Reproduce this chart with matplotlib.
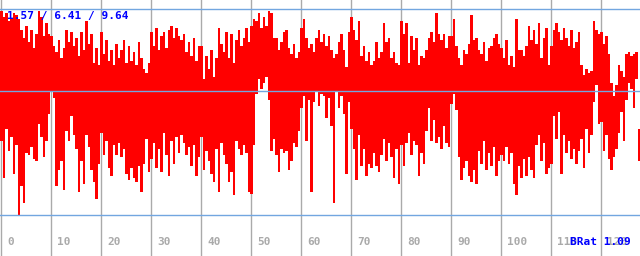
import numpy as np
import matplotlib
matplotlib.use('Agg')
import matplotlib.pyplot as plt
import matplotlib.transforms as mtransforms

# range of each half-unit column: low / high value
hi = [9.9, 9.6, 9.8, 9.4, 9.5, 9.8, 9.7, 9.5, 9.0, 8.6,
      9.2, 8.4, 9.0, 8.1, 8.8, 9.9, 9.6, 8.7, 9.3, 8.8,
      8.7, 8.2, 7.9, 8.5, 7.6, 8.1, 9.0, 8.4, 8.9, 8.2,
      8.6, 7.7, 8.9, 8.0, 9.4, 8.3, 8.8, 7.4, 8.1, 7.3,
      8.9, 7.8, 8.5, 7.5, 8.0, 7.3, 8.3, 7.6, 8.0, 8.5,
      7.4, 8.2, 7.5, 7.9, 7.3, 8.4, 7.6, 7.1, 6.9, 7.4,
      8.9, 8.2, 9.1, 8.0, 8.7, 8.9, 8.1, 9.0, 9.2, 8.6,
      9.1, 8.7, 8.5, 8.8, 7.9, 8.4, 7.7, 8.6, 7.5, 8.2,
      8.2, 6.6, 7.7, 7.1, 8.0, 6.7, 7.6, 9.1, 8.3, 7.9,
      8.9, 7.6, 8.8, 7.4, 8.5, 9.0, 8.2, 8.6, 9.1, 8.4,
      9.2, 9.5, 9.4, 9.8, 9.1, 9.6, 9.2, 9.9, 9.8, 8.6,
      8.6, 8.0, 8.4, 8.9, 9.0, 8.1, 7.8, 8.3, 7.6, 7.9,
      9.1, 9.5, 8.6, 8.1, 8.3, 7.9, 8.6, 9.0, 8.4, 8.8,
      8.2, 8.7, 8.0, 7.6, 7.8, 8.4, 8.8, 8.0, 7.2, 8.9,
      9.6, 9.0, 8.5, 9.4, 7.7, 8.2, 7.5, 7.9, 7.3, 7.5,
      8.4, 7.6, 7.9, 9.3, 8.4, 8.6, 7.6, 7.9, 7.4, 7.3,
      9.4, 8.8, 9.3, 7.4, 8.7, 8.0, 8.6, 7.3, 7.7, 7.6,
      8.0, 8.6, 8.9, 8.4, 9.8, 8.8, 8.5, 8.8, 8.1, 8.7,
      8.7, 9.5, 8.2, 7.6, 7.3, 8.0, 7.8, 8.3, 9.7, 8.5,
      8.6, 8.0, 7.8, 8.4, 7.5, 8.1, 8.2, 8.6, 8.8, 8.3,
      8.1, 7.6, 8.5, 7.3, 7.7, 7.2, 9.5, 8.0, 8.0, 7.7,
      8.2, 9.2, 8.5, 9.0, 8.3, 9.3, 7.6, 8.6, 9.1, 7.3,
      8.2, 9.0, 9.3, 8.9, 8.5, 9.1, 8.6, 8.2, 9.0, 8.1,
      8.4, 8.9, 7.3, 6.8, 7.1, 6.9, 7.0, 9.4, 9.0, 8.8,
      8.9, 8.3, 8.7, 7.8, 6.4, 5.8, 6.3, 7.3, 7.0, 6.7,
      7.8, 7.9, 7.7, 7.8, 7.9, 4.2]
lo = [3.6, 1.8, 4.2, 3.1, 3.8, 2.0, 3.4, 0.0, 1.4, 0.6,
      3.0, 2.9, 3.3, 2.7, 2.6, 4.4, 3.8, 2.8, 3.6, 4.9,
      6.0, 5.7, 1.4, 2.2, 2.6, 1.2, 4.1, 3.6, 4.8, 3.9,
      3.2, 1.1, 2.6, 1.5, 3.9, 3.3, 2.2, 1.6, 0.8, 2.5,
      4.0, 2.9, 3.6, 2.3, 1.9, 3.4, 2.9, 3.5, 2.8, 3.2,
      2.0, 1.7, 2.3, 1.8, 1.6, 2.4, 1.1, 2.5, 3.7, 2.1,
      2.7, 3.5, 2.3, 3.2, 2.1, 4.0, 2.9, 1.9, 3.6, 2.5,
      3.8, 3.0, 3.9, 3.5, 2.9, 3.3, 2.4, 3.4, 1.9, 2.8,
      3.8, 2.2, 3.1, 2.6, 2.0, 1.6, 3.2, 1.1, 3.5, 2.9,
      2.5, 1.6, 2.1, 0.97, 3.6, 3.2, 2.9, 3.4, 3.0, 1.1,
      1.0, 3.4, 5.9, 6.6, 6.1, 6.4, 6.7, 5.6, 3.1, 3.7,
      2.9, 2.1, 3.2, 3.0, 3.1, 2.2, 2.6, 3.5, 3.3, 4.1,
      5.2, 5.8, 3.6, 5.6, 1.1, 5.5, 6.0, 5.3, 5.9, 5.8,
      4.7, 5.7, 4.3, 0.6, 6.0, 5.2, 5.8, 4.9, 2.0, 5.5,
      4.2, 3.2, 1.7, 3.9, 2.4, 3.2, 1.9, 2.5, 2.3, 3.0,
      2.4, 2.1, 2.9, 3.7, 2.6, 3.5, 2.8, 1.8, 3.2, 1.5,
      3.4, 2.4, 3.5, 4.0, 2.9, 3.6, 3.4, 1.9, 3.0, 2.5,
      4.1, 5.2, 3.6, 4.6, 3.5, 3.8, 3.2, 4.3, 3.5, 3.3,
      5.4, 5.9, 5.1, 2.8, 1.7, 2.3, 2.6, 1.9, 1.6, 2.2,
      1.5, 3.1, 2.5, 3.6, 2.2, 3.0, 2.4, 3.3, 1.9, 2.6,
      2.9, 2.6, 3.3, 2.5, 3.0, 1.5, 0.97, 2.4, 1.8, 2.7,
      1.9, 2.8, 2.2, 1.8, 3.4, 3.9, 2.6, 3.5, 2.0, 2.3,
      2.5, 4.8, 3.7, 5.0, 2.0, 3.9, 3.0, 3.6, 2.7, 3.2,
      2.5, 3.1, 3.7, 2.3, 4.2, 3.0, 3.9, 5.5, 6.3, 4.4,
      4.5, 3.1, 3.9, 2.7, 2.2, 2.8, 3.2, 4.0, 5.0, 3.6,
      5.6, 6.4, 6.1, 5.2, 6.6, 2.6]

xticks = [0, 10, 20, 30, 40, 50, 60, 70, 80, 90, 100, 110, 120]
hlines = [0, 6, 10]
stats_label = '1.57 / 6.41 / 9.64'
brat_label = 'BRat 1.09'

hi = np.array(hi)
lo = np.array(lo)
x = np.arange(len(hi)) * 0.5

fig = plt.figure(figsize=(6.4, 2.56), dpi=100)
ax = fig.add_axes([0, 0, 1, 1])
ax.set_xlim(0, 128)
ax.set_ylim(-1.99, 10.44)
ax.axis('off')

for t in xticks:
    ax.axvline(t + 0.1, color='#aaaaaa', lw=1.0, zorder=1)

ax.bar(x, hi - lo, bottom=lo, width=0.5, align='edge', color='#ff0000',
       linewidth=0, zorder=2)

for h in hlines:
    ax.axhline(h, color='#72a6e0', lw=1.0, zorder=3)

mono = dict(family='DejaVu Sans Mono', weight='bold', size=8)
off = mtransforms.offset_copy(ax.transData, fig=fig, x=7, y=0, units='dots')
for t in xticks:
    ax.text(t, -1.46, str(t), transform=off, color='#aaaaaa', va='baseline',
            ha='left', zorder=4, **mono)

ax.text(0.011, 0.925, stats_label, transform=ax.transAxes, color='#0000ff',
        va='baseline', ha='left', zorder=5, **mono)
ax.text(0.89, 0.043, brat_label, transform=ax.transAxes, color='#0000ff',
        va='baseline', ha='left', zorder=5, **mono)

fig.savefig('out.png', dpi=100)
